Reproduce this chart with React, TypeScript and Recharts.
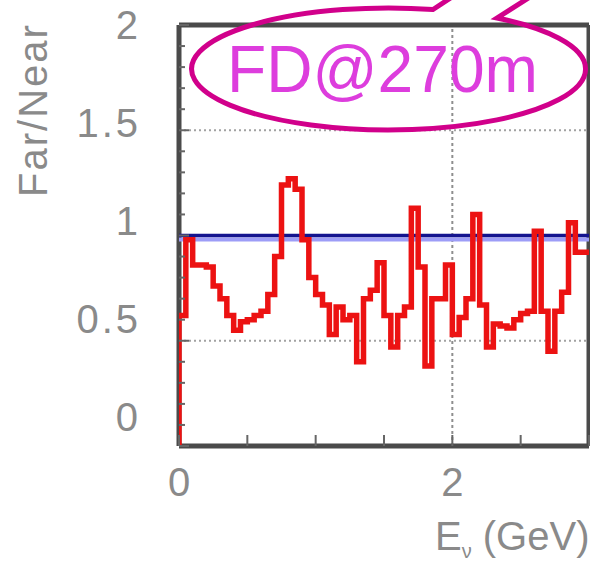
import React from "react";
import { LineChart, Line, XAxis, YAxis, ReferenceLine, Label } from "recharts";

// lower edge of each energy bin (GeV) and the Far/Near ratio in that bin
const binLow = [
  0.0, 0.05, 0.1, 0.15, 0.2, 0.25, 0.3, 0.35, 0.4, 0.45,
  0.5, 0.55, 0.6, 0.65, 0.7, 0.75, 0.8, 0.85, 0.9, 0.95,
  1.0, 1.05, 1.1, 1.15, 1.2, 1.25, 1.3, 1.35, 1.4, 1.45,
  1.5, 1.55, 1.6, 1.65, 1.7, 1.75, 1.8, 1.85, 1.9, 1.95,
  2.0, 2.05, 2.1, 2.15, 2.2, 2.25, 2.3, 2.35, 2.4, 2.45,
  2.5, 2.55, 2.6, 2.65, 2.7, 2.75, 2.8, 2.85, 2.9, 2.95,
];
const ratio = [
  0.62, 0.98, 0.86, 0.86, 0.85, 0.76, 0.7, 0.62, 0.55, 0.59,
  0.6, 0.62, 0.64, 0.72, 0.9, 1.24, 1.27, 1.22, 0.98, 0.8,
  0.72, 0.67, 0.53, 0.66, 0.6, 0.62, 0.4, 0.7, 0.74, 0.87,
  0.62, 0.47, 0.62, 0.66, 1.13, 0.85, 0.38, 0.7, 0.7, 0.86,
  0.53, 0.61, 0.7, 1.1, 0.67, 0.47, 0.58, 0.57, 0.56, 0.6,
  0.63, 0.64, 1.02, 0.64, 0.45, 0.64, 0.73, 1.06, 0.92, 0.92,
];
const binWidth = 0.05;

const yTicks = [0, 0.1, 0.2, 0.3, 0.4, 0.5, 0.6, 0.7, 0.8, 0.9, 1, 1.1, 1.2, 1.3, 1.4, 1.5, 1.6, 1.7, 1.8, 1.9, 2];
const yLabels = [0, 0.5, 1, 1.5, 2];
const xTicks = [0, 0.5, 1, 1.5, 2, 2.5, 3];
const xLabels = [0, 2];
const dottedY = [0.5, 1.5];
const dottedX = [2];
const unity = 1;

const FONT = "'Liberation Sans', Arial, sans-serif";
const GREY_TEXT = "#8a8a8a";
const FRAME = "#4a4a4a";

// histogram as step points: start at zero, one point per bin, closing edge
const data = [
  { e: 0, r: 0 },
  ...binLow.map((e, i) => ({ e, r: ratio[i] })),
  { e: binLow[binLow.length - 1] + binWidth, r: ratio[ratio.length - 1] },
];

function YTick(props: any) {
  const { x, y, payload } = props;
  const v = payload.value;
  const major = yLabels.includes(v);
  // labels in the source drift slightly upward relative to their ticks
  const labelY = y - (2 - v) * 14.5 + 14;
  return (
    <g>
      <line x1={x} x2={x + (major ? 10 : 6)} y1={y} y2={y} stroke="#666" strokeWidth={2} />
      {major && (
        <text x={x - 38} y={labelY} textAnchor="end" fontSize={40} letterSpacing={3} fill={GREY_TEXT} fontFamily={FONT}>
          {v}
        </text>
      )}
    </g>
  );
}

function XTick(props: any) {
  const { x, y, payload } = props;
  const v = payload.value;
  const labeled = xLabels.includes(v);
  return (
    <g>
      <line x1={x} x2={x} y1={y} y2={y - 11} stroke="#666" strokeWidth={2} />
      {labeled && (
        <text x={x} y={y + 50} textAnchor="middle" fontSize={40} fill={GREY_TEXT} fontFamily={FONT}>
          {v}
        </text>
      )}
    </g>
  );
}

const unityShape = (p: any) => (
  <g>
    <line x1={p.x1} y1={p.y1 + 4} x2={p.x2} y2={p.y2 + 4} stroke="#9d9df7" strokeWidth={4} />
    <line x1={p.x1} y1={p.y1} x2={p.x2} y2={p.y2} stroke="#14148f" strokeWidth={3.5} />
  </g>
);

export default function App() {
  return (
    <div style={{ position: "absolute", left: 0, top: 0, width: 590, height: 561, background: "#fff" }}>
      <LineChart width={590} height={561} data={data} margin={{ top: 25, right: 1, bottom: 65, left: 139 }}>
        <XAxis
          dataKey="e"
          type="number"
          domain={[0, 3]}
          ticks={xTicks}
          interval={0}
          height={50}
          tickSize={0}
          tickMargin={0}
          tick={<XTick />}
          allowDataOverflow
          axisLine={false}
        >
          <Label
            content={(p: any) => {
              const vb = p.viewBox;
              return (
                <text x={vb.x + 256} y={vb.y + 104} fontSize={40} fill={GREY_TEXT} fontFamily={FONT}>
                  E<tspan dy={8} fontSize={20}>ν</tspan>
                  <tspan dy={-8}> (GeV)</tspan>
                </text>
              );
            }}
          />
        </XAxis>
        <YAxis
          type="number"
          domain={[0, 2]}
          ticks={yTicks}
          interval={0}
          width={40}
          tickSize={0}
          tickMargin={0}
          tick={<YTick />}
          allowDataOverflow
          axisLine={false}
        >
          <Label
            content={(p: any) => {
              const vb = p.viewBox;
              const cx = vb.x - 92;
              const cy = vb.y + 85;
              return (
                <text x={cx} y={cy} transform={`rotate(-90 ${cx} ${cy})`} textAnchor="middle" fontSize={40} letterSpacing={2} fill={GREY_TEXT} fontFamily={FONT}>
                  Far/Near
                </text>
              );
            }}
          />
        </YAxis>

        {dottedY.map((v) => (
          <ReferenceLine key={`gy-${v}`} y={v} stroke="#a2a2a2" strokeWidth={2} strokeDasharray="2 3" />
        ))}
        {dottedX.map((v) => (
          <ReferenceLine key={`gx-${v}`} x={v} stroke="#8e8e8e" strokeWidth={2} strokeDasharray="3 3" />
        ))}
        {/* frame: drawn as reference lines so the histogram sits on top of it */}
        <ReferenceLine x={0} stroke={FRAME} strokeWidth={5} />
        <ReferenceLine y={0} stroke={FRAME} strokeWidth={5} />
        <ReferenceLine y={2} stroke={FRAME} strokeWidth={5} />
        <ReferenceLine x={3} stroke={FRAME} strokeWidth={5} />
        <ReferenceLine y={unity} shape={unityShape} />

        <Line
          type="stepAfter"
          dataKey="r"
          stroke="#ec1212"
          strokeWidth={5.5}
          dot={false}
          strokeLinejoin="miter"
          isAnimationActive={false}
        />
      </LineChart>

      {/* callout bubble drawn over the plot */}
      <svg width={590} height={561} style={{ position: "absolute", left: 0, top: 0, pointerEvents: "none" }}>
        <path
          d="M 452 -3 L 433 9.5 A 197 61 0 1 0 497 18 L 530 -3"
          fill="none"
          stroke="#d1008b"
          strokeWidth={5}
        />
        <text x={227} y={92} fontSize={66} textLength={311} lengthAdjust="spacingAndGlyphs" fill="#dd3ddd" fontFamily={FONT}>
          FD@270m
        </text>
      </svg>
    </div>
  );
}
